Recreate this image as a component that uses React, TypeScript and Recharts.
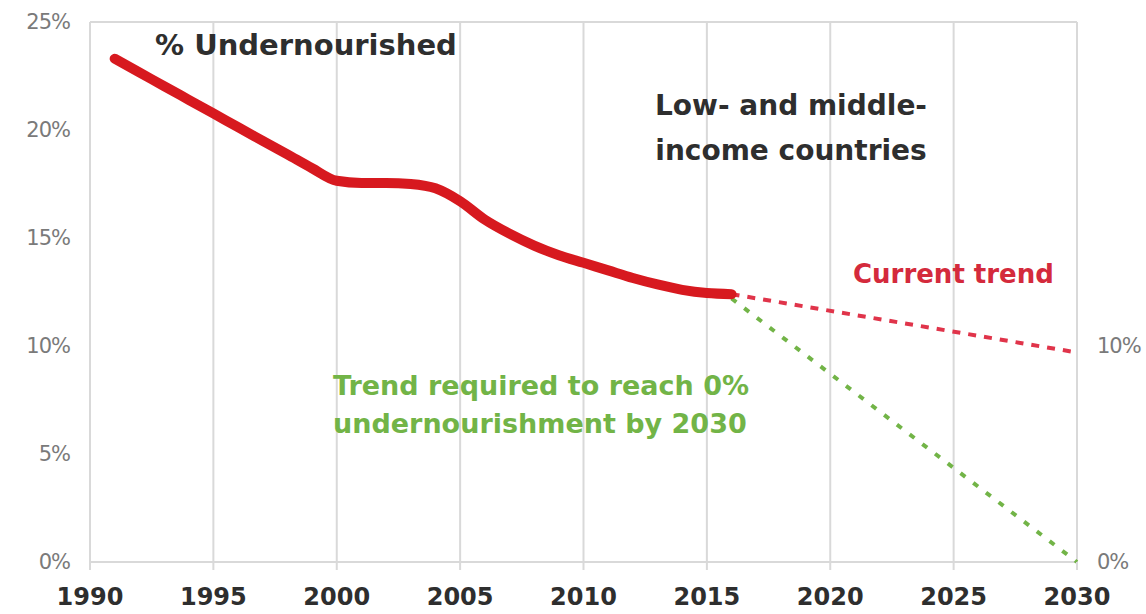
import { LineChart, Line, XAxis, YAxis, CartesianGrid } from 'recharts';

const years = [1991, 1992, 1993, 1994, 1995, 1996, 1997, 1998, 1999, 2000, 2001, 2002, 2003, 2004, 2005, 2006, 2007, 2008, 2009, 2010, 2011, 2012, 2013, 2014, 2015, 2016];
const undernourished = [23.3, 22.67, 22.03, 21.4, 20.77, 20.13, 19.5, 18.87, 18.23, 17.65, 17.55, 17.55, 17.5, 17.3, 16.7, 15.85, 15.2, 14.65, 14.2, 13.85, 13.5, 13.15, 12.85, 12.6, 12.45, 12.4];

const trendYears = [2016, 2030];
const currentTrend = [12.4, 9.7];
const requiredTrend = [12.2, 0];

const xTicks = [1990, 1995, 2000, 2005, 2010, 2015, 2020, 2025, 2030];
const yTicks = [0, 5, 10, 15, 20, 25];
const rightTicks = [0, 10];

const mainData = years.map((year, i) => ({ year, value: undernourished[i] }));
const currentData = trendYears.map((year, i) => ({ year, value: currentTrend[i] }));
const requiredData = trendYears.map((year, i) => ({ year, value: requiredTrend[i] }));

const FONT = '"DejaVu Sans", sans-serif';
const DARK = '#2e2e2e';
const RED = '#d7191f';
const TREND_RED = '#e0344a';
const GREEN = '#72b447';
const axisTick = { fill: '#7a7a7a', fontSize: 21, fontFamily: FONT, letterSpacing: -1 };

export default function App() {
  return (
    <div style={{ position: 'absolute', left: 0, top: 0, background: '#fff' }}>
      <LineChart width={1146} height={614} margin={{ top: 22, right: 9, bottom: 12, left: 20 }}>
        <CartesianGrid stroke="#d9d9d9" strokeWidth={2} />
        <XAxis
          dataKey="year"
          type="number"
          domain={[1990, 2030]}
          ticks={xTicks}
          height={40}
          axisLine={false}
          tickLine={{ stroke: '#d9d9d9', strokeWidth: 2 }}
          tickSize={8}
          tickMargin={18}
          tick={{ fill: DARK, fontSize: 24, fontWeight: 700, fontFamily: FONT }}
        />
        <YAxis
          yAxisId="left"
          domain={[0, 25]}
          ticks={yTicks}
          width={70}
          axisLine={false}
          tickLine={false}
          tickSize={0}
          tickMargin={20}
          tickFormatter={(v) => `${v}%`}
          tick={axisTick}
        />
        <YAxis
          yAxisId="right"
          orientation="right"
          domain={[0, 25]}
          ticks={rightTicks}
          width={60}
          axisLine={false}
          tickLine={false}
          tickSize={0}
          tickMargin={20}
          tickFormatter={(v) => `${v}%`}
          tick={axisTick}
        />
        {/* invisible series so the right axis gets drawn */}
        <Line
          yAxisId="right"
          data={currentData}
          dataKey="value"
          stroke="none"
          dot={false}
          activeDot={false}
          isAnimationActive={false}
        />
        <Line
          yAxisId="left"
          data={currentData}
          dataKey="value"
          type="linear"
          stroke={TREND_RED}
          strokeWidth={4}
          strokeDasharray="8 8"
          dot={false}
          activeDot={false}
          isAnimationActive={false}
        />
        <Line
          yAxisId="left"
          data={requiredData}
          dataKey="value"
          type="linear"
          stroke={GREEN}
          strokeWidth={4}
          strokeDasharray="6 10"
          dot={false}
          activeDot={false}
          isAnimationActive={false}
        />
        <Line
          yAxisId="left"
          data={mainData}
          dataKey="value"
          type="monotone"
          stroke={RED}
          strokeWidth={10}
          strokeLinecap="round"
          strokeLinejoin="round"
          dot={false}
          activeDot={false}
          isAnimationActive={false}
        />
        <g fontFamily={FONT} fontWeight={700}>
          <text x={155} y={55} fontSize={29} fill={DARK}>% Undernourished</text>
          <text x={791} y={115} fontSize={28} fill={DARK} textAnchor="middle">Low- and middle-</text>
          <text x={791} y={160} fontSize={28} fill={DARK} textAnchor="middle">income countries</text>
          <text x={853} y={283} fontSize={26} fill="#d42a3c">Current trend</text>
          <text x={333} y={395} fontSize={27} fill={GREEN}>Trend required to reach 0%</text>
          <text x={333} y={433} fontSize={27} fill={GREEN}>undernourishment by 2030</text>
        </g>
      </LineChart>
    </div>
  );
}
